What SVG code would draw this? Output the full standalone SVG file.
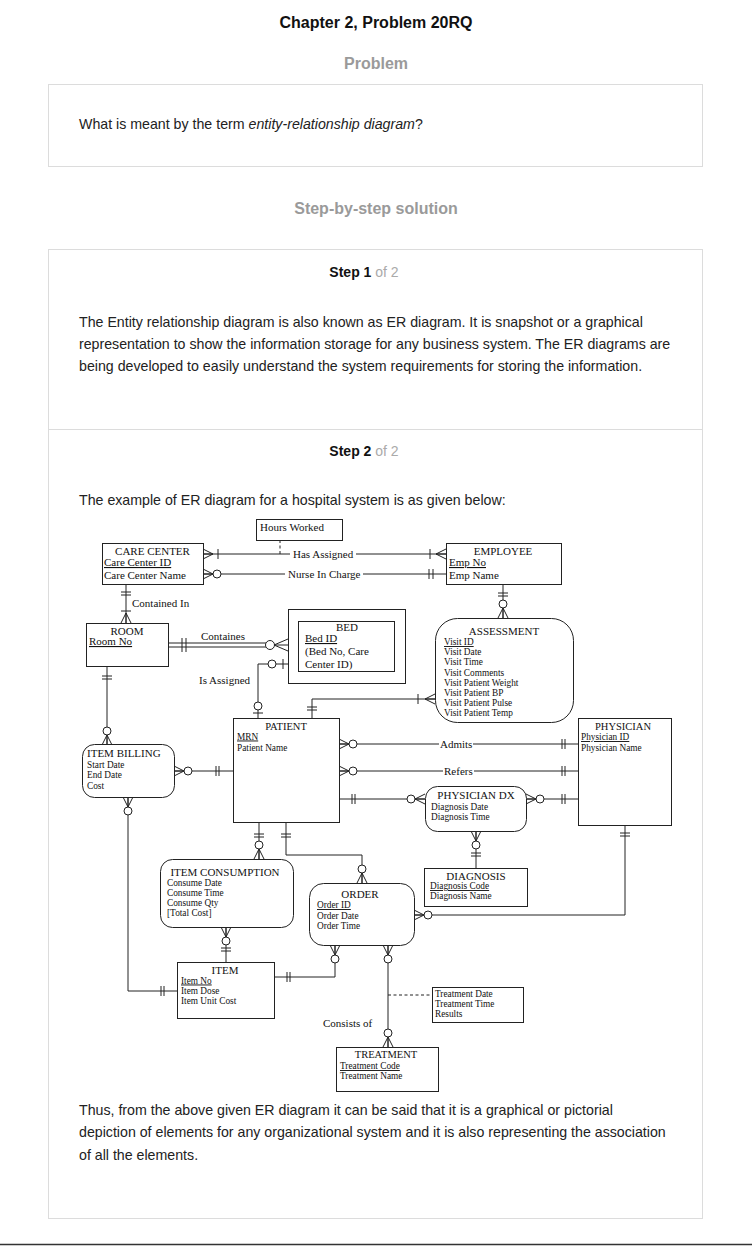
<svg xmlns="http://www.w3.org/2000/svg" xmlns:xlink="http://www.w3.org/1999/xlink" width="752" height="1246" viewBox="0 0 752 1246">
  <style>
    .pg { font-family: "Liberation Sans", Arial, sans-serif; fill: #222; }
    .h1 { font-size: 16px; font-weight: bold; fill: #111; }
    .h2 { font-size: 16px; font-weight: bold; fill: #9a9a9a; }
    .body { font-size: 14.2px; }
    .step { font-size: 14px; font-weight: bold; fill: #111; }
    .grey { font-weight: normal; fill: #aaa; }
    .frame { fill: #fff; stroke: #dcdcdc; stroke-width: 1; }
    .er { font-family: "Liberation Serif", "Times New Roman", serif; fill: #111; }
    .t { font-size: 11px; }
    .tm { font-size: 10.5px; }
    .a { font-size: 9.3px; }
    .u { text-decoration: underline; }
    .mid { text-anchor: middle; }
    .box { fill: #fff; stroke: #222; stroke-width: 1; }
    .ln { fill: none; stroke: #222; stroke-width: 1; }
    .dash { stroke-dasharray: 3 2.5; }
  </style>
  <defs>
    <!-- crow's foot: origin on the entity edge, apex pointing away along +x -->
    <path id="crow" d="M0,-5 L10,0 L0,5 M0,0 H10" fill="none" stroke="#222" stroke-width="1"/>
    <circle id="ring" r="4" fill="#fff" stroke="#222" stroke-width="1"/>
    <path id="vbar" d="M0,-5 V5" fill="none" stroke="#222" stroke-width="1"/>
    <path id="hbar" d="M-5,0 H5" fill="none" stroke="#222" stroke-width="1"/>
  </defs>

  <rect width="752" height="1246" fill="#fff"/>

  <!-- page header and framing -->
  <g id="page" class="pg">
    <text class="h1 mid" x="376" y="28">Chapter 2, Problem 20RQ</text>
    <text class="h2 mid" x="376" y="69">Problem</text>
    <rect class="frame" x="48.5" y="84.5" width="654" height="82"/>
    <text class="body" x="79" y="129">What is meant by the term <tspan font-style="italic">entity-relationship diagram</tspan>?</text>
    <text class="h2 mid" x="376" y="214">Step-by-step solution</text>
    <rect class="frame" x="48.5" y="249.5" width="654" height="969"/>
    <line x1="49" y1="429.5" x2="702" y2="429.5" stroke="#dcdcdc"/>
    <text class="step mid" x="364" y="277">Step 1 <tspan class="grey">of 2</tspan></text>
    <text class="body" x="79" y="327">The Entity relationship diagram is also known as ER diagram. It is snapshot or a graphical</text>
    <text class="body" x="79" y="349">representation to show the information storage for any business system. The ER diagrams are</text>
    <text class="body" x="79" y="371">being developed to easily understand the system requirements for storing the information.</text>
    <text class="step mid" x="364" y="456">Step 2 <tspan class="grey">of 2</tspan></text>
    <text class="body" x="79" y="505">The example of ER diagram for a hospital system is as given below:</text>
    <text class="body" x="79" y="1115">Thus, from the above given ER diagram it can be said that it is a graphical or pictorial</text>
    <text class="body" x="79" y="1137">depiction of elements for any organizational system and it is also representing the association</text>
    <text class="body" x="79" y="1160">of all the elements.</text>
    <line x1="0" y1="1244.5" x2="752" y2="1244.5" stroke="#333" stroke-width="1.5"/>
  </g>

  <!-- relationships -->
  <g id="connectors" class="er">
    <!-- Has Assigned -->
    <path class="ln" d="M203,554 H290 M356,554 H446"/>
    <path class="ln dash" d="M280,540 V554"/>
    <text class="t" x="293" y="557.5">Has Assigned</text>
    <use href="#crow" transform="translate(203,554)"/>
    <use href="#vbar" x="218" y="554"/>
    <use href="#crow" transform="translate(446,554) rotate(180)"/>
    <use href="#vbar" x="430" y="554"/>

    <!-- Nurse In Charge -->
    <path class="ln" d="M203,574 H285 M363,574 H446"/>
    <text class="t" x="288" y="577.5">Nurse In Charge</text>
    <use href="#crow" transform="translate(203,574)"/>
    <use href="#ring" x="217" y="574"/>
    <use href="#vbar" x="429" y="574"/>
    <use href="#vbar" x="433" y="574"/>

    <!-- EMPLOYEE - ASSESSMENT -->
    <path class="ln" d="M503,584 V618"/>
    <use href="#hbar" x="503" y="593"/>
    <use href="#hbar" x="503" y="596"/>
    <use href="#ring" x="503" y="604"/>
    <use href="#crow" transform="translate(503,618) rotate(-90)"/>

    <!-- Contained In -->
    <path class="ln" d="M126,584 V623"/>
    <use href="#hbar" x="126" y="592"/>
    <use href="#hbar" x="126" y="595"/>
    <text class="t" x="132" y="607">Contained In</text>
    <use href="#hbar" x="126" y="611"/>
    <use href="#crow" transform="translate(126,623) rotate(-90)"/>

    <!-- Containes (identifying, double line) -->
    <path class="ln" d="M168,643 H270 M168,647 H270"/>
    <path class="ln" d="M182,638 V652 M186,638 V652"/>
    <path class="ln" d="M288,639 L274,645 L288,651 M288,645 H274"/>
    <circle cx="270" cy="645" r="4.5" fill="#fff" stroke="#222"/>
    <text class="t" x="201" y="640">Containes</text>

    <!-- Is Assigned -->
    <path class="ln" d="M288,664 H258 V718"/>
    <use href="#vbar" x="283" y="664"/>
    <use href="#ring" x="272" y="664"/>
    <use href="#ring" x="258" y="706"/>
    <use href="#hbar" x="258" y="713"/>
    <text class="t" x="199" y="684">Is Assigned</text>

    <!-- PATIENT - ASSESSMENT -->
    <path class="ln" d="M312,718 V699 H435"/>
    <use href="#hbar" x="312" y="707"/>
    <use href="#hbar" x="312" y="710"/>
    <use href="#vbar" x="418" y="699"/>
    <use href="#crow" transform="translate(435,699) rotate(180)"/>

    <!-- ROOM - ITEM BILLING -->
    <path class="ln" d="M107,666 V745"/>
    <use href="#hbar" x="107" y="676"/>
    <use href="#hbar" x="107" y="679"/>
    <use href="#ring" x="107" y="731"/>
    <use href="#crow" transform="translate(107,745) rotate(-90)"/>

    <!-- ITEM BILLING - PATIENT -->
    <path class="ln" d="M174,771 H233"/>
    <use href="#crow" transform="translate(174,771)"/>
    <use href="#ring" x="188" y="771"/>
    <use href="#vbar" x="216" y="771"/>
    <use href="#vbar" x="219" y="771"/>

    <!-- ITEM BILLING - ITEM -->
    <path class="ln" d="M128,797 V991 H177"/>
    <use href="#crow" transform="translate(128,797) rotate(90)"/>
    <use href="#ring" x="128" y="811"/>
    <use href="#vbar" x="161" y="991"/>
    <use href="#vbar" x="164" y="991"/>

    <!-- Admits -->
    <path class="ln" d="M339,744 H439 M473,744 H578"/>
    <text class="t" x="440" y="747.5">Admits</text>
    <use href="#crow" transform="translate(339,744)"/>
    <use href="#ring" x="353" y="744"/>
    <use href="#vbar" x="562" y="744"/>
    <use href="#vbar" x="565" y="744"/>

    <!-- Refers -->
    <path class="ln" d="M339,771 H443 M474,771 H578"/>
    <text class="t" x="444" y="774.5">Refers</text>
    <use href="#crow" transform="translate(339,771)"/>
    <use href="#ring" x="353" y="771"/>
    <use href="#vbar" x="562" y="771"/>
    <use href="#vbar" x="565" y="771"/>

    <!-- PATIENT - PHYSICIAN DX - PHYSICIAN -->
    <path class="ln" d="M339,799 H425 M526,799 H578"/>
    <use href="#vbar" x="352" y="799"/>
    <use href="#vbar" x="355" y="799"/>
    <use href="#ring" x="411" y="799"/>
    <use href="#crow" transform="translate(425,799) rotate(180)"/>
    <use href="#crow" transform="translate(526,799)"/>
    <use href="#ring" x="540" y="799"/>
    <use href="#vbar" x="562" y="799"/>
    <use href="#vbar" x="565" y="799"/>

    <!-- PHYSICIAN DX - DIAGNOSIS -->
    <path class="ln" d="M476,831 V868"/>
    <use href="#crow" transform="translate(476,831) rotate(90)"/>
    <use href="#ring" x="476" y="845"/>
    <use href="#hbar" x="476" y="853"/>
    <use href="#hbar" x="476" y="856"/>

    <!-- PHYSICIAN - ORDER -->
    <path class="ln" d="M625,825 V915 H414"/>
    <use href="#hbar" x="625" y="833"/>
    <use href="#hbar" x="625" y="836"/>
    <use href="#ring" x="428" y="915"/>
    <use href="#crow" transform="translate(414,915)"/>

    <!-- PATIENT - ITEM CONSUMPTION -->
    <path class="ln" d="M259,822 V859"/>
    <use href="#hbar" x="259" y="834"/>
    <use href="#hbar" x="259" y="837"/>
    <use href="#ring" x="259" y="845"/>
    <use href="#crow" transform="translate(259,859) rotate(-90)"/>

    <!-- PATIENT - ORDER -->
    <path class="ln" d="M286,822 V855 H362 V883"/>
    <use href="#hbar" x="286" y="834"/>
    <use href="#hbar" x="286" y="837"/>
    <use href="#ring" x="362" y="869"/>
    <use href="#crow" transform="translate(362,883) rotate(-90)"/>

    <!-- ITEM CONSUMPTION - ITEM -->
    <path class="ln" d="M226,927 V962"/>
    <use href="#crow" transform="translate(226,927) rotate(90)"/>
    <use href="#ring" x="226" y="941"/>
    <use href="#hbar" x="226" y="948"/>
    <use href="#hbar" x="226" y="951"/>

    <!-- ITEM - ORDER -->
    <path class="ln" d="M274,977 H335 V945"/>
    <use href="#vbar" x="287" y="977"/>
    <use href="#vbar" x="290" y="977"/>
    <use href="#ring" x="335" y="959"/>
    <use href="#crow" transform="translate(335,945) rotate(90)"/>

    <!-- ORDER - TREATMENT (Consists of) -->
    <path class="ln" d="M388,945 V1047"/>
    <path class="ln dash" d="M388,995 H432"/>
    <use href="#crow" transform="translate(388,945) rotate(90)"/>
    <use href="#ring" x="388" y="959"/>
    <use href="#ring" x="388" y="1033"/>
    <use href="#crow" transform="translate(388,1047) rotate(-90)"/>
    <text class="t" x="323" y="1027">Consists of</text>
  </g>

  <!-- entities -->
  <g id="hours-worked" class="er">
    <rect class="box" x="256.5" y="519.5" width="86" height="21"/>
    <text class="t" x="260" y="530.5">Hours Worked</text>
  </g>

  <g id="care-center" class="er">
    <rect class="box" x="102.5" y="543.5" width="101" height="41"/>
    <text class="t mid" x="152.5" y="555">CARE CENTER</text>
    <text class="t u" x="104" y="566">Care Center ID</text>
    <text class="t" x="104" y="579">Care Center Name</text>
  </g>

  <g id="employee" class="er">
    <rect class="box" x="446.5" y="543.5" width="115" height="41"/>
    <text class="t mid" x="503" y="555">EMPLOYEE</text>
    <text class="t u" x="449" y="566">Emp No</text>
    <text class="t" x="449" y="579">Emp Name</text>
  </g>

  <g id="room" class="er">
    <rect class="box" x="86.5" y="623.5" width="82" height="43"/>
    <text class="t mid" x="127" y="634.5">ROOM</text>
    <text class="t u" x="89" y="645">Room No</text>
  </g>

  <g id="bed" class="er">
    <rect class="box" x="288.5" y="609.5" width="117" height="74"/>
    <rect class="box" x="298.5" y="621.5" width="96" height="50"/>
    <text class="t mid" x="347" y="631">BED</text>
    <text class="t u" x="305" y="642">Bed ID</text>
    <text class="t" x="305" y="655">(Bed No, Care</text>
    <text class="t" x="305" y="668">Center ID)</text>
  </g>

  <g id="assessment" class="er">
    <rect class="box" x="435.5" y="618.5" width="138" height="104" rx="22"/>
    <text class="t mid" x="504" y="635">ASSESSMENT</text>
    <text class="a u" x="444" y="645">Visit ID</text>
    <text class="a" x="444" y="655.2">Visit Date</text>
    <text class="a" x="444" y="665.4">Visit Time</text>
    <text class="a" x="444" y="675.6">Visit Comments</text>
    <text class="a" x="444" y="685.8">Visit Patient Weight</text>
    <text class="a" x="444" y="696">Visit Patient BP</text>
    <text class="a" x="444" y="706.2">Visit Patient Pulse</text>
    <text class="a" x="444" y="716.4">Visit Patient Temp</text>
  </g>

  <g id="item-billing" class="er">
    <rect class="box" x="82.5" y="744.5" width="92" height="53" rx="12"/>
    <text class="t" x="87" y="757">ITEM BILLING</text>
    <text class="a" x="87" y="767.5">Start Date</text>
    <text class="a" x="87" y="778">End Date</text>
    <text class="a" x="87" y="788.5">Cost</text>
  </g>

  <g id="patient" class="er">
    <rect class="box" x="233.5" y="718.5" width="106" height="104"/>
    <text class="tm mid" x="286" y="729.5">PATIENT</text>
    <text class="a u" x="237" y="739.5">MRN</text>
    <text class="a" x="237" y="750.5">Patient Name</text>
  </g>

  <g id="physician" class="er">
    <rect class="box" x="578.5" y="718.5" width="93" height="107"/>
    <text class="tm mid" x="623" y="729.5">PHYSICIAN</text>
    <text class="a u" x="581" y="740">Physician ID</text>
    <text class="a" x="581" y="750.5">Physician Name</text>
  </g>

  <g id="physician-dx" class="er">
    <rect class="box" x="425.5" y="786.5" width="101" height="45" rx="12"/>
    <text class="t mid" x="476" y="798.5">PHYSICIAN DX</text>
    <text class="a" x="431" y="810">Diagnosis Date</text>
    <text class="a" x="431" y="820">Diagnosis Time</text>
  </g>

  <g id="diagnosis" class="er">
    <rect class="box" x="424.5" y="868.5" width="103" height="38"/>
    <text class="t mid" x="476" y="879.5">DIAGNOSIS</text>
    <text class="a u" x="430" y="889">Diagnosis Code</text>
    <text class="a" x="430" y="899">Diagnosis Name</text>
  </g>

  <g id="item-consumption" class="er">
    <rect class="box" x="160.5" y="859.5" width="133" height="68" rx="12"/>
    <text class="t mid" x="225" y="875.5">ITEM CONSUMPTION</text>
    <text class="a" x="167" y="886">Consume Date</text>
    <text class="a" x="167" y="896">Consume Time</text>
    <text class="a" x="167" y="906">Consume Qty</text>
    <text class="a" x="167" y="916">[Total Cost]</text>
  </g>

  <g id="order" class="er">
    <rect class="box" x="309.5" y="883.5" width="105" height="62" rx="14"/>
    <text class="t mid" x="360" y="897.5">ORDER</text>
    <text class="a u" x="317" y="908">Order ID</text>
    <text class="a" x="317" y="918.5">Order Date</text>
    <text class="a" x="317" y="929">Order Time</text>
  </g>

  <g id="item" class="er">
    <rect class="box" x="177.5" y="962.5" width="97" height="56"/>
    <text class="t mid" x="225" y="973.5">ITEM</text>
    <text class="a u" x="181" y="983.5">Item No</text>
    <text class="a" x="181" y="994">Item Dose</text>
    <text class="a" x="181" y="1004">Item Unit Cost</text>
  </g>

  <g id="treatment-attributes" class="er">
    <rect class="box" x="432.5" y="987.5" width="91" height="35"/>
    <text class="a" x="435" y="996.5">Treatment Date</text>
    <text class="a" x="435" y="1007">Treatment Time</text>
    <text class="a" x="435" y="1017">Results</text>
  </g>

  <g id="treatment" class="er">
    <rect class="box" x="336.5" y="1047.5" width="102" height="44"/>
    <text class="tm mid" x="386" y="1058">TREATMENT</text>
    <text class="a u" x="340" y="1069">Treatment Code</text>
    <text class="a" x="340" y="1079">Treatment Name</text>
  </g>
</svg>
